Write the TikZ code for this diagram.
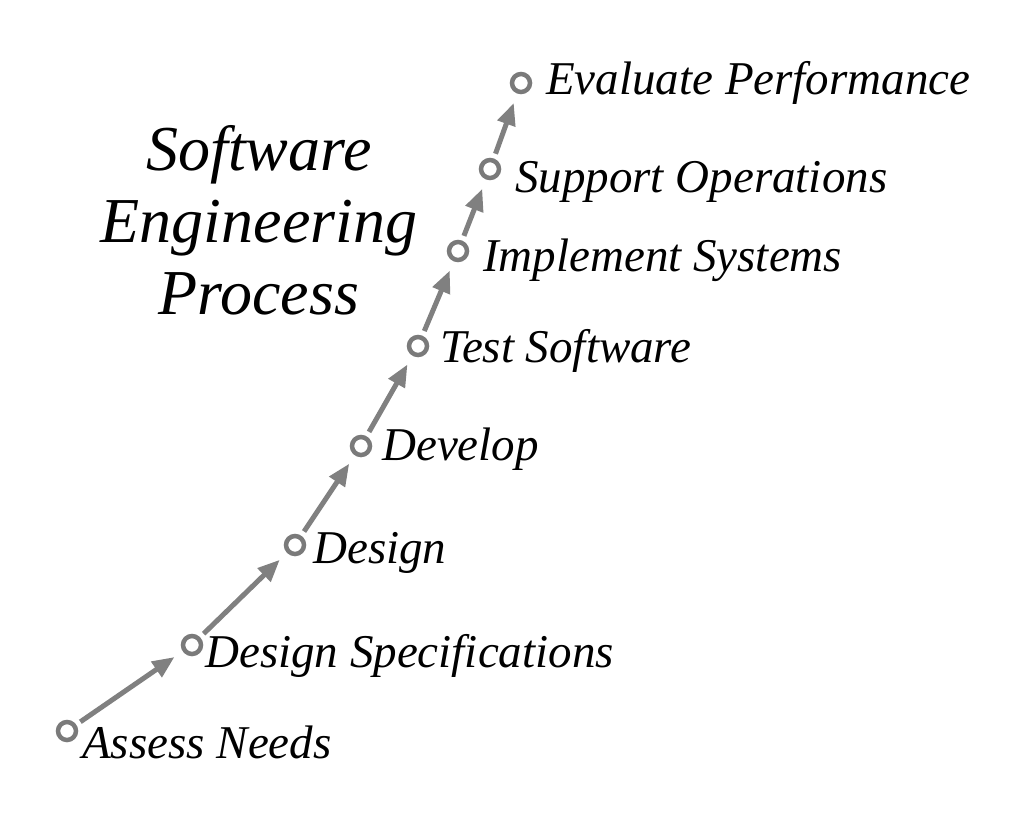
\documentclass[tikz,border=0pt]{standalone}
\usepackage{fontspec}
\setmainfont{Liberation Serif}
\usetikzlibrary{arrows.meta}
\definecolor{dotgray}{RGB}{122,122,122}
\definecolor{arrowgray}{RGB}{128,128,128}
\tikzset{
	stagenode/.style = {
		inner sep=0pt,
		font=\itshape\fontsize{47}{56}\selectfont,
		anchor=base west
	},
	node_dot/.style = {
		circle,
		draw=dotgray,
		fill=white,
		line width=4.5pt,
		minimum size=18pt,
		inner sep=0pt
	},
	node_title/.style = {
		align=center,
		inner sep=0pt,
		font=\itshape\fontsize{64}{72}\selectfont
	},
	edge_up/.style = {
		-{Triangle[length=22pt,width=18pt]},
		draw=arrowgray,
		line width=5pt,
		shorten <=5pt,
		shorten >=10pt
	}
}
\begin{document}
\begin{tikzpicture}[x=1pt,y=-1pt]
\useasboundingbox[fill=white] (0,0) rectangle (1023,838);
\node [node_title] (title) at (259,220) {Software\\Engineering\\Process};
\node [node_dot] (d1) at (67,731) {};
\node [node_dot] (d2) at (192,645) {};
\node [node_dot] (d3) at (295,545) {};
\node [node_dot] (d4) at (361,446) {};
\node [node_dot] (d5) at (418,346) {};
\node [node_dot] (d6) at (458,251) {};
\node [node_dot] (d7) at (490,169) {};
\node [node_dot] (d8) at (521,83) {};
\node [stagenode] (t1) at (82,758) {Assess Needs};
\node [stagenode] (t2) at (205,667) {Design Specifications};
\node [stagenode] (t3) at (313,563) {Design};
\node [stagenode] (t4) at (382,460) {Develop};
\node [stagenode] (t5) at (440,362) {Test Software};
\node [stagenode] (t6) at (483,271) {Implement Systems};
\node [stagenode] (t7) at (515,192) {Support Operations};
\node [stagenode] (t8) at (546,94) {Evaluate Performance};
\draw [edge_up] (d1) -- (d2);
\draw [edge_up] (d2) -- (d3);
\draw [edge_up] (d3) -- (d4);
\draw [edge_up] (d4) -- (d5);
\draw [edge_up] (d5) -- (d6);
\draw [edge_up] (d6) -- (d7);
\draw [edge_up] (d7) -- (d8);
\end{tikzpicture}
\end{document}
